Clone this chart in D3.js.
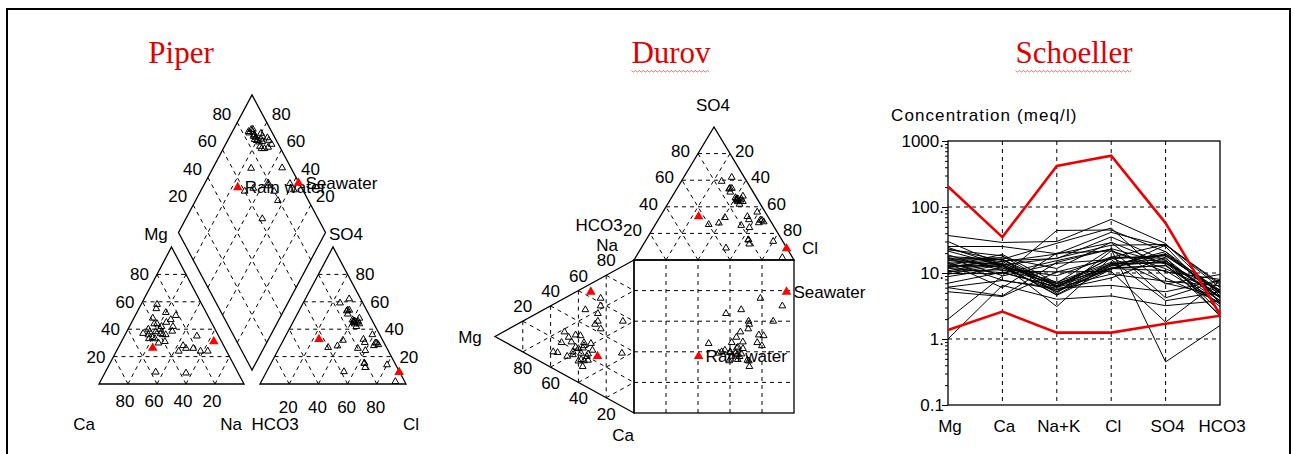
<!DOCTYPE html>
<html>
<head>
<meta charset="utf-8">
<title>Piper, Durov, Schoeller</title>
<script src="https://cdn.jsdelivr.net/npm/d3@7"></script>
<style>
    body { margin: 0; background: #fff; }
    svg text { font-family: "Liberation Sans", Arial, sans-serif; font-size: 17px; fill: #000; }
    text.title { font-family: "Liberation Serif", "Times New Roman", serif; font-size: 31px; fill: #e00000; }
    path.edge { fill: none; stroke: #000; stroke-width: 1.3; }
    path.grid { fill: none; stroke: #000; stroke-width: 1; stroke-dasharray: 4, 4; }
    line.grid { stroke: #000; stroke-width: 1; stroke-dasharray: 4, 4; }
</style>
</head>
<body>
<script>
// major ions of each sample, meq/l
var mgMeq   = [24.4, 21.5, 22.5, 18.8, 30.0, 11.8, 12.4, 12.2, 10.5, 25.2, 37.0, 23.1, 7.0, 6.1, 14.0, 10.8, 15.6, 5.2, 6.0, 16.8, 1.0, 2.0, 12.2, 15.4, 13.2, 8.8, 17.1, 12.9, 14.0, 16.2, 10.3, 14.6, 9.8, 17.7, 9.6];
var caMeq   = [13.0, 12.9, 18.2, 10.8, 13.2, 10.1, 15.0, 13.4, 11.2, 25.2, 29.0, 15.4, 10.3, 7.7, 6.0, 14.9, 16.2, 4.4, 4.5, 9.1, 6.5, 9.0, 16.3, 13.3, 12.5, 12.0, 11.8, 19.1, 16.1, 17.1, 14.0, 7.8, 9.8, 16.1, 13.3];
var naMeq   = [4.6, 4.7, 6.1, 10.4, 16.8, 6.2, 5.2, 6.4, 6.9, 19.6, 30.0, 16.5, 6.1, 5.9, 20.0, 19.4, 28.2, 10.4, 14.5, 44.1, 4.0, 14.0, 5.5, 6.3, 7.3, 5.2, 9.1, 7.0, 4.9, 11.7, 6.9, 5.6, 15.4, 6.5, 3.1];
var clMeq   = [11.3, 12.9, 17.3, 16.4, 26.4, 11.8, 14.0, 12.8, 12.0, 41.3, 65.0, 35.2, 9.6, 6.5, 21.6, 28.8, 48.0, 10.6, 23.0, 44.8, 4.5, 16.0, 11.8, 13.3, 14.5, 11.7, 17.5, 23.4, 21.7, 29.3, 13.8, 8.4, 23.1, 16.9, 17.2];
var so4Meq  = [26.5, 21.1, 27.2, 18.4, 27.0, 12.9, 14.3, 15.0, 12.9, 25.2, 28.0, 15.4, 7.5, 5.2, 10.4, 6.8, 8.4, 1.8, 0.45, 21.0, 3.2, 3.8, 19.2, 19.6, 15.8, 10.9, 16.7, 14.0, 11.6, 13.5, 14.3, 17.4, 4.2, 18.2, 7.0];
var hco3Meq = [7.0, 5.1, 6.0, 5.2, 6.6, 3.4, 4.3, 4.2, 3.8, 3.5, 4.5, 4.4, 6.4, 7.8, 8.0, 9.5, 3.6, 7.6, 1.6, 4.2, 3.8, 5.2, 5.0, 5.5, 2.6, 3.4, 3.8, 5.5, 5.0, 2.3, 3.1, 2.2, 7.7, 5.2, 4.5];

// reference waters, meq/l
var refNames = ["Rain water", "Seawater"];
var refMg   = [1.37, 205];
var refCa   = [2.6, 35];
var refNa   = [1.25, 420];
var refCl   = [1.25, 600];
var refSo4  = [1.7, 57];
var refHco3 = [2.25, 2.35];

var categories = ["Mg", "Ca", "Na+K", "Cl", "SO4", "HCO3"];
var yTicks = [0.1, 1, 10, 100, 1000];
var yTickText = ["0.1", "1.", "10.", "100.", "1000."];
var gridLevels = [0.2, 0.4, 0.6, 0.8];
var gridText = ["20", "40", "60", "80"];
var titles = ["Piper", "Durov", "Schoeller"];

function water(mg, ca, na, cl, so4, hco3, name) {
    var ct = mg + ca + na, at = cl + so4 + hco3;
    return {name: name, meq: [mg, ca, na, cl, so4, hco3],
        mg: mg / ct, ca: ca / ct, na: na / ct,
        cl: cl / at, so4: so4 / at, hco3: hco3 / at};
}

var samples = mgMeq.map(function (d, i) {
    return water(mgMeq[i], caMeq[i], naMeq[i], clMeq[i], so4Meq[i], hco3Meq[i]);
});
var refs = refNames.map(function (n, i) {
    return water(refMg[i], refCa[i], refNa[i], refCl[i], refSo4[i], refHco3[i], n);
});

var svg = d3.select("body").append("svg")
        .attr("width", 1294)
        .attr("height", 454);

svg.append("rect")
        .attr("x", 7).attr("y", 9).attr("width", 1283).attr("height", 470)
        .attr("fill", "none").attr("stroke", "#000").attr("stroke-width", 2);

// titles
var titleX = [181, 671, 1074];
titles.forEach(function (t, i) {
    var txt = svg.append("text").attr("class", "title")
            .attr("x", titleX[i]).attr("y", 63)
            .attr("text-anchor", "middle").text(t);
    if (i > 0) {
        var w = txt.node().getComputedTextLength();
        var pts = d3.range(titleX[i] - w / 2, titleX[i] + w / 2, 2).map(function (x, k) {
            return [x, 71 + (k % 2 ? 1 : -0.5)];
        });
        svg.append("path").attr("d", d3.line()(pts))
                .attr("fill", "none").attr("stroke", "#d05050").attr("stroke-width", 0.8);
    }
});

var line = d3.line();
var openTri = d3.symbol().type(d3.symbolTriangle).size(20);
var redTri = d3.symbol().type(d3.symbolTriangle).size(40);

function label(g, x, y, text, anchor) {
    return g.append("text").attr("x", x).attr("y", y)
            .attr("text-anchor", anchor || "middle").text(text);
}

// ternary triangle: pt(a, b, c) -> [x, y]
function drawTriangle(g, pt) {
    gridLevels.forEach(function (t) {
        [[pt(t, 1 - t, 0), pt(t, 0, 1 - t)],
         [pt(1 - t, t, 0), pt(0, t, 1 - t)],
         [pt(1 - t, 0, t), pt(0, 1 - t, t)]].forEach(function (s) {
            g.append("path").attr("class", "grid").attr("d", line(s));
        });
    });
    g.append("path").attr("class", "edge")
            .attr("d", line([pt(1, 0, 0), pt(0, 1, 0), pt(0, 0, 1)]) + "Z");
}

function plotPoints(g, pos, withNames) {
    samples.forEach(function (s) {
        var p = pos(s);
        g.append("path").attr("d", openTri)
                .attr("transform", "translate(" + p[0] + "," + p[1] + ")")
                .attr("fill", "none").attr("stroke", "#000").attr("stroke-width", 1);
    });
    refs.forEach(function (s) {
        var p = pos(s);
        g.append("path").attr("d", redTri)
                .attr("transform", "translate(" + p[0] + "," + p[1] + ")")
                .attr("fill", "#ff0000");
        if (withNames) label(g, p[0] + 7, p[1] + 6, s.name, "start");
    });
}

// ---------------- Piper ----------------
var piper = svg.append("g").attr("class", "piper");

var pcX = d3.scaleLinear().domain([0, 1]).range([99, 244]),
    pcY = d3.scaleLinear().domain([0, 1]).range([384, 247]);
function pcPt(ca, na, mg) { return [pcX(na + mg / 2), pcY(mg)]; }

var paX = d3.scaleLinear().domain([0, 1]).range([260, 406]),
    paY = d3.scaleLinear().domain([0, 1]).range([384, 247]);
function paPt(hco3, cl, so4) { return [paX(cl + so4 / 2), paY(so4)]; }

var pdX = d3.scaleLinear().domain([-1, 1]).range([178.5, 325.5]),
    pdY = d3.scaleLinear().domain([0, 2]).range([370, 95]);
function pdPt(p, q) { return [pdX(q - p), pdY(p + q)]; }

drawTriangle(piper, pcPt);
drawTriangle(piper, paPt);

gridLevels.forEach(function (t) {
    piper.append("path").attr("class", "grid").attr("d", line([pdPt(t, 0), pdPt(t, 1)]));
    piper.append("path").attr("class", "grid").attr("d", line([pdPt(0, t), pdPt(1, t)]));
});
piper.append("path").attr("class", "edge")
        .attr("d", line([pdPt(0, 0), pdPt(1, 0), pdPt(1, 1), pdPt(0, 1)]) + "Z");

gridLevels.forEach(function (t, i) {
    var p = pcPt(t, 1 - t, 0);
    label(piper, p[0] - 3, 407, gridText[i]);
    p = pcPt(1 - t, 0, t);
    label(piper, p[0] - 8, p[1] + 6, gridText[i], "end");
    p = paPt(1 - t, t, 0);
    label(piper, p[0] - 1, 413, gridText[i]);
    p = paPt(0, 1 - t, t);
    label(piper, p[0] + 8, p[1] + 6, gridText[i], "start");
    p = pdPt(1, t);
    label(piper, p[0] - 6, p[1] - 3, gridText[i], "end");
    p = pdPt(t, 1);
    label(piper, p[0] + 5, p[1] - 3, gridText[i], "start");
});
label(piper, 156, 240, "Mg");
label(piper, 346, 240, "SO4");
label(piper, 84, 430, "Ca");
label(piper, 231, 430, "Na");
label(piper, 275, 430, "HCO3");
label(piper, 411, 430, "Cl");

plotPoints(piper, function (s) { return pcPt(s.ca, s.na, s.mg); }, false);
plotPoints(piper, function (s) { return paPt(s.hco3, s.cl, s.so4); }, false);
plotPoints(piper, function (s) { return pdPt(1 - s.na, 1 - s.hco3); }, true);

// ---------------- Durov ----------------
var durov = svg.append("g").attr("class", "durov");

var daX = d3.scaleLinear().domain([0, 1]).range([634, 794]),
    daY = d3.scaleLinear().domain([0, 1]).range([260, 127]);
function daPt(hco3, cl, so4) { return [daX(cl + so4 / 2), daY(so4)]; }

var dcX = d3.scaleLinear().domain([0, 1]).range([634, 495]),
    dcY = d3.scaleLinear().domain([0, 1]).range([413, 260]);
function dcPt(mg, na, ca) { return [dcX(mg), dcY(na + mg / 2)]; }

drawTriangle(durov, daPt);
drawTriangle(durov, dcPt);

gridLevels.forEach(function (t) {
    durov.append("line").attr("class", "grid")
            .attr("x1", daX(t)).attr("x2", daX(t)).attr("y1", dcY(0)).attr("y2", dcY(1));
    durov.append("line").attr("class", "grid")
            .attr("x1", daX(0)).attr("x2", daX(1)).attr("y1", dcY(t)).attr("y2", dcY(t));
});
durov.append("rect").attr("x", daX(0)).attr("y", dcY(1))
        .attr("width", daX(1) - daX(0)).attr("height", dcY(0) - dcY(1))
        .attr("fill", "none").attr("stroke", "#000").attr("stroke-width", 1.3);

gridLevels.forEach(function (t, i) {
    var p = daPt(1 - t, 0, t);
    label(durov, p[0] - 8, p[1] + 3, gridText[i], "end");
    p = daPt(0, t, 1 - t);
    label(durov, p[0] + 5, p[1] + 3, gridText[i], "start");
    p = dcPt(1 - t, t, 0);
    label(durov, p[0], p[1] - 9, gridText[i]);
    p = dcPt(t, 0, 1 - t);
    label(durov, p[0], p[1] + 22, gridText[i]);
});
label(durov, 713, 111, "SO4");
label(durov, 599, 231, "HCO3");
label(durov, 607, 251, "Na");
label(durov, 810, 254, "Cl");
label(durov, 470, 343, "Mg");
label(durov, 623, 441, "Ca");

plotPoints(durov, function (s) { return daPt(s.hco3, s.cl, s.so4); }, false);
plotPoints(durov, function (s) { return dcPt(s.mg, s.na, s.ca); }, false);
plotPoints(durov, function (s) { return [daX(s.cl + s.so4 / 2), dcY(s.na + s.mg / 2)]; }, true);

// ---------------- Schoeller ----------------
var sch = svg.append("g").attr("class", "schoeller");

var sx = d3.scalePoint().domain(categories).range([948, 1220]);
var sy = d3.scaleLog().domain([0.1, 1000]).range([405, 141]);

categories.slice(1, -1).forEach(function (c) {
    sch.append("line").attr("class", "grid")
            .attr("x1", sx(c)).attr("x2", sx(c)).attr("y1", sy(1000)).attr("y2", sy(0.1));
});
yTicks.slice(1, -1).forEach(function (v) {
    sch.append("line").attr("class", "grid")
            .attr("x1", sx("Mg")).attr("x2", sx("HCO3")).attr("y1", sy(v)).attr("y2", sy(v));
});

var minor = [];
yTicks.slice(0, -1).forEach(function (v) {
    d3.range(2, 10).forEach(function (k) { minor.push(v * k); });
});
sch.append("g").attr("transform", "translate(" + sx("Mg") + ",0)")
        .call(d3.axisLeft(sy).tickValues(minor).tickSize(3).tickFormat(""))
        .select(".domain").remove();
var yAxisG = sch.append("g").attr("transform", "translate(" + sx("Mg") + ",0)")
        .call(d3.axisLeft(sy).tickValues(yTicks).tickSize(6).tickPadding(0)
                .tickFormat(function (d, i) { return yTickText[i]; }));
yAxisG.select(".domain").remove();
yAxisG.selectAll("text").attr("dx", "2");

sch.append("rect").attr("x", sx("Mg")).attr("y", sy(1000))
        .attr("width", sx("HCO3") - sx("Mg")).attr("height", sy(0.1) - sy(1000))
        .attr("fill", "none").attr("stroke", "#000").attr("stroke-width", 1.3);

categories.forEach(function (c) {
    label(sch, sx(c) + 2, 432, c);
});
label(sch, 891, 121, "Concentration (meq/l)", "start").style("letter-spacing", "1.1px");

var schLine = d3.line()
        .x(function (d, i) { return sx(categories[i]); })
        .y(function (d) { return sy(d); });

// meq is kept in the Schoeller order: Mg, Ca, Na+K, Cl, SO4, HCO3
samples.forEach(function (s) {
    sch.append("path").attr("d", schLine(s.meq))
            .attr("fill", "none").attr("stroke", "#000").attr("stroke-width", 1);
});
refs.forEach(function (s) {
    sch.append("path").attr("d", schLine(s.meq))
            .attr("fill", "none").attr("stroke", "#ee0000").attr("stroke-width", 2.6);
});
</script>
</body>
</html>
